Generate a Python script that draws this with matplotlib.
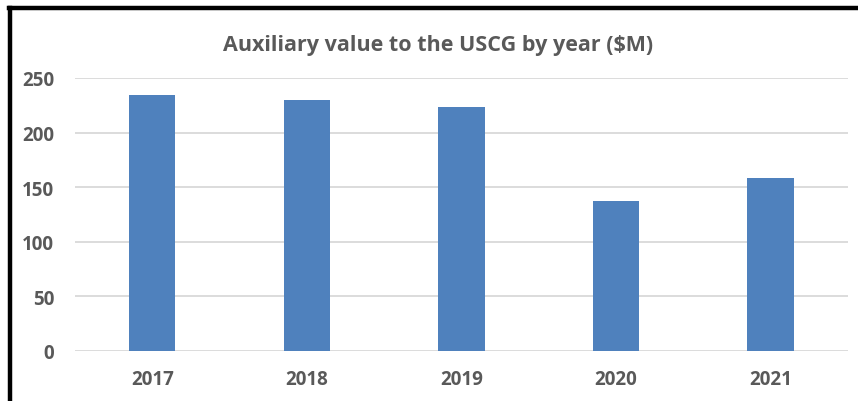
import matplotlib
matplotlib.use("Agg")
import matplotlib.pyplot as plt
from matplotlib.lines import Line2D

years = ["2017", "2018", "2019", "2020", "2021"]
values = [234, 230, 223, 137, 158]

plt.rcParams['font.family'] = ['Open Sans', 'DejaVu Sans']

fig = plt.figure(figsize=(8.58, 4.02), dpi=100)
ax = fig.add_axes([0.0874, 0.1244, 0.9006, 0.6791])

ax.bar(range(len(years)), values, width=0.30, color="#4F81BD", zorder=3)

ax.set_xlim(-0.5, len(years) - 0.5)
ax.set_ylim(0, 250)
ax.set_yticks(range(0, 251, 50))
ax.set_xticks(range(len(years)))
ax.set_xticklabels(years)
ax.grid(axis="y", color="#D9D9D9", linewidth=1.3, zorder=0)
for s in ax.spines.values():
    s.set_visible(False)
ax.tick_params(length=0, colors="#595959", labelsize=13.5)
ax.tick_params(axis="y", pad=15)
ax.tick_params(axis="x", pad=13)
for lbl in ax.get_xticklabels() + ax.get_yticklabels():
    lbl.set_fontweight("bold")

fig.text(0.511, 0.888, "Auxiliary value to the USCG by year ($M)",
         ha="center", va="center", fontsize=15.5, fontweight="bold", color="#595959")

# black frame on left and top edges
fig.add_artist(Line2D([10 / 858, 10 / 858], [0, 1 - 9 / 402], transform=fig.transFigure,
                      color="black", linewidth=3.2))
fig.add_artist(Line2D([8.5 / 858, 1], [1 - 9 / 402, 1 - 9 / 402], transform=fig.transFigure,
                      color="black", linewidth=3.2))

fig.savefig("out.png", dpi=100)
